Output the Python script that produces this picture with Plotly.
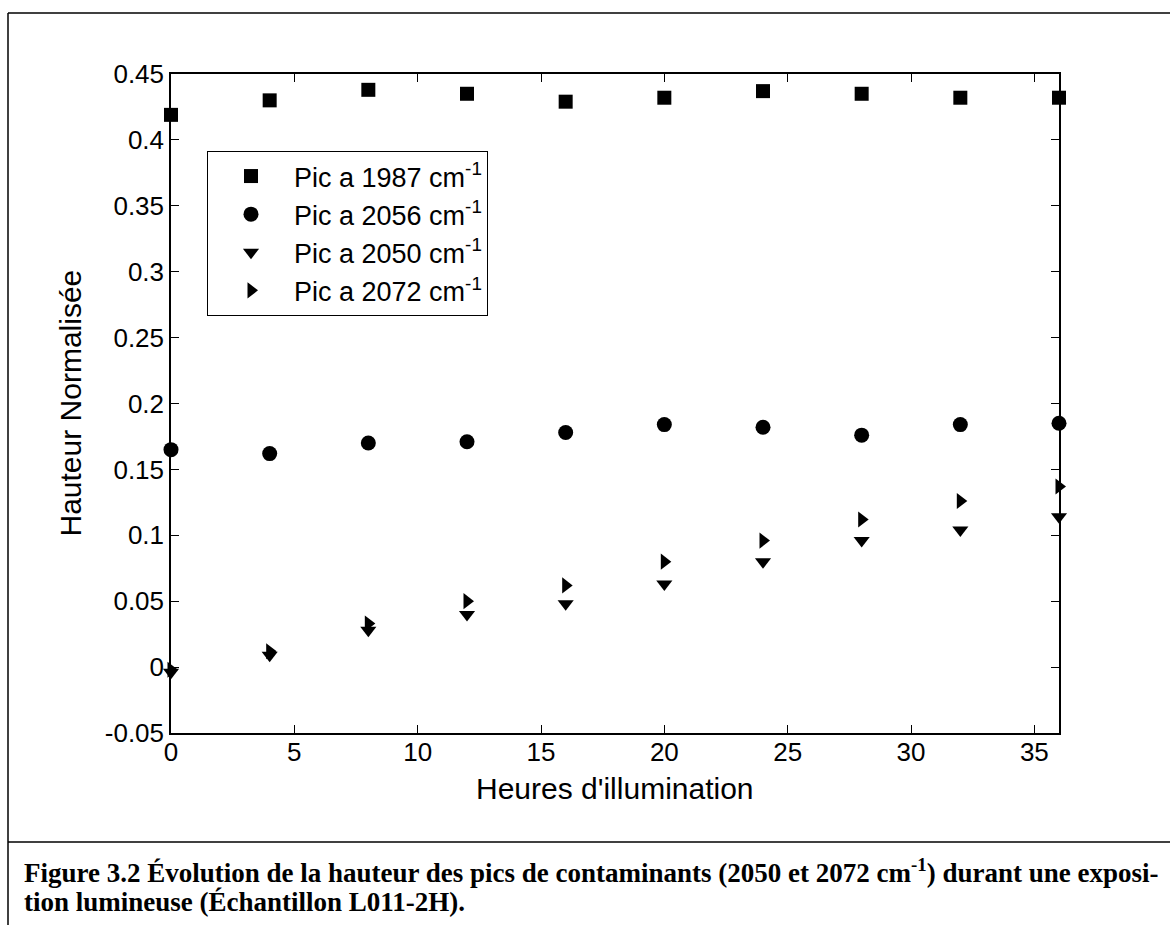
import plotly.graph_objects as go

# ---- data ----
heures = [0, 4, 8, 12, 16, 20, 24, 28, 32, 36]
pic_1987 = [0.419, 0.430, 0.438, 0.435, 0.429, 0.432, 0.437, 0.435, 0.432, 0.432]
pic_2056 = [0.165, 0.162, 0.170, 0.171, 0.178, 0.184, 0.182, 0.176, 0.184, 0.185]
pic_2050 = [-0.004, 0.009, 0.028, 0.040, 0.048, 0.063, 0.080, 0.096, 0.104, 0.114]
pic_2072 = [-0.002, 0.012, 0.033, 0.050, 0.062, 0.080, 0.096, 0.112, 0.126, 0.137]

series_names = ["Pic a 1987 cm<sup>-1</sup>", "Pic a 2056 cm<sup>-1</sup>",
                "Pic a 2050 cm<sup>-1</sup>", "Pic a 2072 cm<sup>-1</sup>"]
x_ticks = [0, 5, 10, 15, 20, 25, 30, 35]
y_ticks = [-0.05, 0, 0.05, 0.1, 0.15, 0.2, 0.25, 0.3, 0.35, 0.4, 0.45]
y_tick_text = ["-0.05", "0", "0.05", "0.1", "0.15", "0.2", "0.25", "0.3", "0.35", "0.4", "0.45"]

x_title = "Heures d'illumination"
y_title = "Hauteur Normalisée"
caption_1 = ("Figure 3.2 Évolution de la hauteur des pics de contaminants "
             "(2050 et 2072 cm<sup>-1</sup>) durant une exposi-")
caption_2 = "tion lumineuse (Échantillon L011-2H)."

# ---- layout geometry (pixels) ----
W, H = 1170, 925
L, R, T, B = 171, 1059, 74, 733
PW, PH = R - L, B - T


def px(xp):
    return (xp - L) / PW


def py(yp):
    return (B - yp) / PH


sans = "Liberation Sans, Arial, Helvetica, sans-serif"
serif = "Liberation Serif, Times New Roman, serif"

fig = go.Figure()
styles = [("square", 14, pic_1987), ("circle", 15, pic_2056),
          ("triangle-down", 14, pic_2050), ("triangle-right", 14, pic_2072)]
for name, (sym, sz, vals) in zip(series_names, styles):
    fig.add_trace(go.Scatter(
        x=heures, y=vals, mode="markers", name=name,
        marker=dict(symbol=sym, size=sz, color="black", line=dict(width=0)),
        cliponaxis=False,
    ))

axis_common = dict(
    showline=True, linecolor="black", linewidth=1.5, mirror="ticks",
    ticks="inside", ticklen=8, tickwidth=1, tickcolor="black",
    showgrid=False, zeroline=False,
    tickfont=dict(family=sans, size=26, color="black"),
)

fig.update_xaxes(range=[0, 36], tickvals=x_ticks, ticklabelstandoff=-5,
                 **axis_common)
fig.update_yaxes(range=[-0.05, 0.45], tickvals=y_ticks, ticktext=y_tick_text,
                 **axis_common)

shapes = []
line_style = dict(color="black", width=1.5)
# outer figure border: top, left, separator
shapes.append(dict(type="line", xref="paper", yref="paper",
                   x0=px(8), x1=px(1172), y0=py(13), y1=py(13), line=line_style))
shapes.append(dict(type="line", xref="paper", yref="paper",
                   x0=px(8), x1=px(8), y0=py(13), y1=py(927), line=line_style))
shapes.append(dict(type="line", xref="paper", yref="paper",
                   x0=px(8), x1=px(1172), y0=py(842), y1=py(842), line=line_style))

annotations = [
    dict(text=x_title, xref="paper", yref="paper", x=0.5, y=py(789),
         xanchor="center", yanchor="middle", showarrow=False,
         font=dict(family=sans, size=30, color="black")),
    dict(text=y_title, xref="paper", yref="paper", x=px(70), y=0.5,
         xanchor="center", yanchor="middle", showarrow=False, textangle=-90,
         font=dict(family=sans, size=30, color="black")),
    dict(text=caption_1, xref="paper", yref="paper", x=px(22), y=py(871),
         xanchor="left", yanchor="middle", showarrow=False,
         font=dict(family=serif, size=27, color="black", weight="bold")),
    dict(text=caption_2, xref="paper", yref="paper", x=px(22), y=py(902),
         xanchor="left", yanchor="middle", showarrow=False,
         font=dict(family=serif, size=27, color="black", weight="bold")),
]

fig.update_layout(
    width=W, height=H,
    margin=dict(l=L, r=W - R, t=T, b=H - B),
    paper_bgcolor="white", plot_bgcolor="white",
    showlegend=True,
    legend=dict(x=px(207), y=py(151), xanchor="left", yanchor="top",
                bgcolor="white", bordercolor="black", borderwidth=1,
                font=dict(family=sans, size=27, color="black"),
                itemwidth=76, tracegroupgap=0),
    shapes=shapes, annotations=annotations,
)

fig.write_html("out.html")
